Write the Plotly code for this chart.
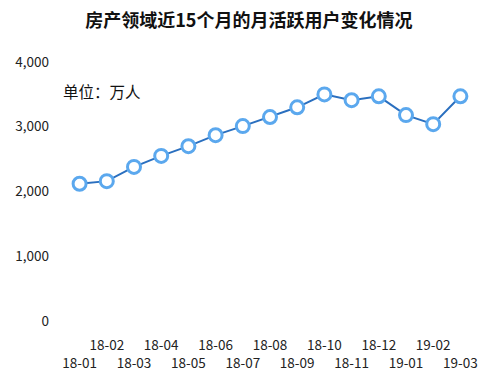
import plotly.graph_objects as go

months = ["18-01", "18-02", "18-03", "18-04", "18-05", "18-06", "18-07", "18-08",
          "18-09", "18-10", "18-11", "18-12", "19-01", "19-02", "19-03"]
users = [2120, 2160, 2380, 2550, 2700, 2870, 3010, 3150, 3300, 3500, 3410, 3470, 3180, 3040, 3470]
y_ticks = [0, 1000, 2000, 3000, 4000]
title_text = "房产领域近15个月的月活跃用户变化情况"
unit_text = "单位：万人"

FONT = "Noto Sans CJK SC, Microsoft YaHei, sans-serif"

fig = go.Figure()
fig.add_trace(go.Scatter(
    x=list(range(len(months))), y=users, mode="lines+markers",
    line=dict(color="#2a6fbf", width=2),
    marker=dict(size=13, color="white", line=dict(color="#5ba8ee", width=3)),
    hoverinfo="skip", showlegend=False,
))
# invisible trace for second x axis
fig.add_trace(go.Scatter(x=[0], y=[0], xaxis="x2", mode="markers",
                         marker=dict(opacity=0), showlegend=False, hoverinfo="skip"))

odd_idx = [i for i in range(len(months)) if i % 2 == 1]
even_idx = [i for i in range(len(months)) if i % 2 == 0]

fig.update_layout(
    width=486, height=381,
    margin=dict(l=66, r=12, t=62, b=60),
    paper_bgcolor="white", plot_bgcolor="white",
    font=dict(family=FONT, size=13.5, color="#222"),
    title=dict(text="<b>" + title_text + "</b>", x=0.512, xanchor="center", y=0.945, yanchor="middle",
               font=dict(size=18, color="#111", family=FONT)),
    xaxis=dict(range=[-0.5, len(months) - 0.5], tickvals=odd_idx,
               ticktext=[months[i] for i in odd_idx], showgrid=False, zeroline=False,
               showline=False, ticks="", ticklabelstandoff=14, automargin=False),
    xaxis2=dict(range=[-0.5, len(months) - 0.5], overlaying="x", side="bottom", anchor="y",
                tickvals=even_idx, ticktext=[months[i] for i in even_idx], showgrid=False,
                zeroline=False, showline=False, ticks="", ticklabelstandoff=32, automargin=False),
    yaxis=dict(range=[0, 4000], tickvals=y_ticks, tickformat=",", showgrid=False,
               zeroline=False, showline=False, ticks="", ticklabelstandoff=16, automargin=False),
    annotations=[dict(text=unit_text, xref="paper", yref="paper", x=-0.012, y=0.888,
                      xanchor="left", yanchor="middle", showarrow=False,
                      font=dict(size=15.5, color="#111", family=FONT))],
)

fig.write_html("out.html", config={"displayModeBar": False},
               post_script="document.body.style.margin='0';document.body.style.overflow='hidden';")
